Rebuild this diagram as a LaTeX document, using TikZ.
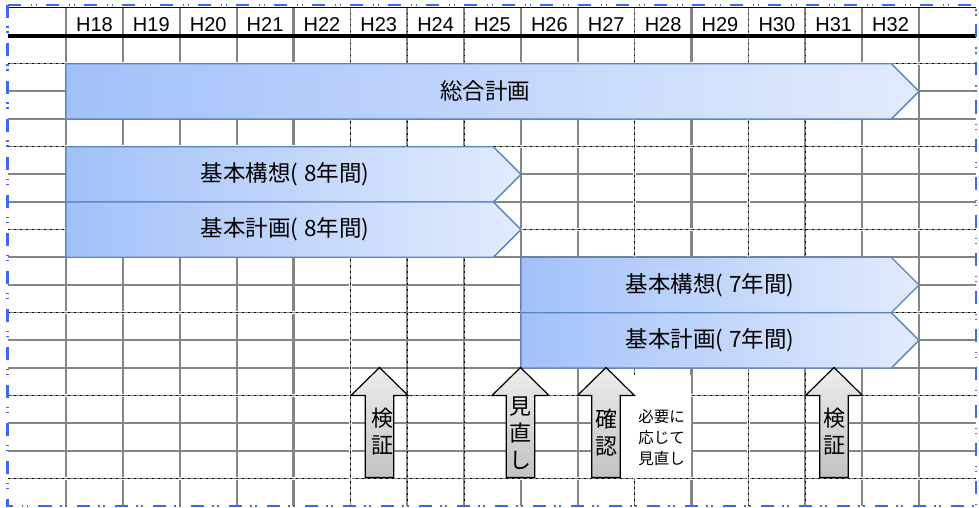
\documentclass[tikz,border=0pt]{standalone}
\usepackage{fontspec}
\setmainfont{Liberation Sans}
\newfontfamily\jpfont{Noto Sans CJK JP}
\definecolor{gridgray}{HTML}{858585}
\definecolor{barL}{HTML}{A2C1F9}
\definecolor{barR}{HTML}{E2EBFD}
\definecolor{barB}{HTML}{5685C4}
\definecolor{pagebl}{HTML}{3A6CF0}
\definecolor{arrT}{HTML}{EDEDED}
\definecolor{arrB}{HTML}{C2C2C2}
\tikzset{
  gridline/.style={draw=gridgray, line width=2.2pt},
  gridthin/.style={draw=gridgray, line width=1.6pt},
  dotover/.style={draw=black, line width=0.8pt, dash pattern=on 1.5pt off 4.5pt},
  hdrtext/.style={font=\fontsize{20}{24}\selectfont, anchor=base, inner sep=0pt},
  bartext/.style={font=\jpfont\fontsize{22.5}{27}\selectfont, inner sep=0pt},
  barfill/.style={left color=barL, right color=barR},
  barline/.style={draw=barB, line width=1.3pt, line join=miter},
  arrfill/.style={top color=arrT, bottom color=arrB},
  arrline/.style={draw=black, line width=1.2pt, line join=miter},
  arrtext/.style={font=\jpfont\fontsize{22}{27}\selectfont, align=center, inner sep=0pt},
  notetext/.style={font=\jpfont\fontsize{15.5}{21}\selectfont, align=center, inner sep=0pt},
  pagebreak/.style={draw=pagebl, line width=2.4pt, dash pattern=on 13pt off 10pt on 1.5pt off 3.5pt on 1.5pt off 8.5pt}
}
\newcommand\planbar[4]{%
  \pgfmathsetmacro\pbd{(#4-#2)/2}%
  \pgfmathsetmacro\pbm{(#4+#2)/2}%
  \shade[barfill] (#1,#2) -- ({#3-\pbd},#2) -- (#3,\pbm) -- ({#3-\pbd},#4) -- (#1,#4) -- cycle;
  \draw[barline] (#1,#2) -- ({#3-\pbd},#2) -- (#3,\pbm) -- ({#3-\pbd},#4) -- (#1,#4) -- cycle;
}
\newcommand\uparrowshape[1]{%
  \shade[arrfill] (#1,367.5) -- ({#1+28.5},395.5) -- ({#1+14.2},395.5) -- ({#1+14.2},477.5) -- ({#1-14.2},477.5) -- ({#1-14.2},395.5) -- ({#1-28.5},395.5) -- cycle;
  \draw[arrline] (#1,367.5) -- ({#1+28.5},395.5) -- ({#1+14.2},395.5) -- ({#1+14.2},477.5) -- ({#1-14.2},477.5) -- ({#1-14.2},395.5) -- ({#1-28.5},395.5) -- cycle;
}
\begin{document}
\begin{tikzpicture}[x=1pt,y=-1pt]
\useasboundingbox (0,0) rectangle (979,508);
\fill[white] (0,0) rectangle (979,508);

% grid: vertical lines
\foreach \k in {0,...,15} {
  \pgfmathsetmacro\xx{66+56.867*\k}
  \draw[gridline] (\xx,7) -- (\xx,506);
}
% grid: horizontal lines
\foreach \k in {1,...,16} {
  \pgfmathsetmacro\yy{36+27.667*\k}
  \draw[gridline] (8,\yy) -- (976,\yy);
}
% dotted overlays (rows)
\foreach \k in {1,4,7,10,13,16} {
  \pgfmathsetmacro\yy{36+27.667*\k}
  \draw[draw=white, line width=2.4pt] (8,\yy) -- (976,\yy);
  \draw[gridthin] (8,\yy) -- (976,\yy);
  \draw[dotover] (8,\yy) -- (976,\yy);
}
% dotted overlays (columns)
\foreach \k in {5,6,7,10,12,13} {
  \pgfmathsetmacro\xx{66+56.867*\k}
  \draw[draw=white, line width=2.4pt] (\xx,7) -- (\xx,506);
  \draw[gridthin] (\xx,7) -- (\xx,506);
  \draw[dotover] (\xx,7) -- (\xx,506);
}

% header
\draw[black, line width=1pt] (8,7.5) -- (976,7.5);
\foreach \k in {1,...,15} {
  \pgfmathtruncatemacro\yr{17+\k}
  \pgfmathsetmacro\xc{66+56.867*(\k-0.5)}
  \node[hdrtext] (h\yr) at (\xc,31.6) {H\yr};
}
\draw[black, line width=3.3pt] (8,36) -- (976,36);

% bars
\planbar{66}{63.7}{919}{119}
\node[bartext] (b1) at (485,91.3) {総合計画};
\planbar{66}{146.7}{521}{202}
\node[bartext] (b2) at (285,174.3) {基本構想(\hspace{0.25em}8年間)};
\planbar{66}{202}{521}{257.3}
\node[bartext] (b3) at (285,229.7) {基本計画(\hspace{0.25em}8年間)};
\planbar{521}{257.3}{919}{312.7}
\node[bartext] (b4) at (710,285) {基本構想(\hspace{0.25em}7年間)};
\planbar{521}{312.7}{919}{368}
\node[bartext] (b5) at (710,340.3) {基本計画(\hspace{0.25em}7年間)};

% white box behind the note
\fill[white] (621,375) rectangle (690.5,478);

% arrows
\uparrowshape{379.5}
\node[arrtext] (a1) at (382,431.5) {検\\証};
\uparrowshape{520.5}
\node[arrtext] (a2) at (520.5,433) {見\\直\\し};
\uparrowshape{606}
\node[arrtext] (a3) at (606.5,433) {確\\認};
\uparrowshape{834}
\node[arrtext] (a4) at (834.5,431.5) {検\\証};

\node[notetext] (n1) at (661.7,438) {必要に\\応じて\\見直し};

% page-break border
\draw[pagebreak] (7.5,5) -- (976,5) -- (976,506) -- (7.5,506) -- cycle;
\end{tikzpicture}
\end{document}
